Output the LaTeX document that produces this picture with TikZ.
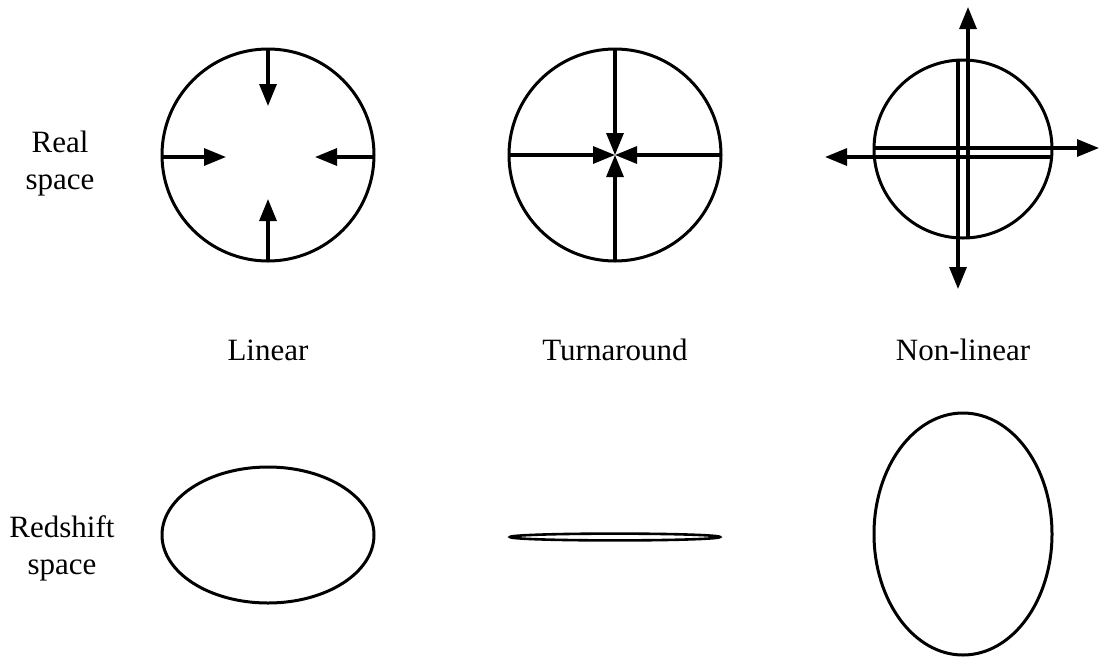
\documentclass[tikz,border=0pt]{standalone}
\usepackage{fontspec}
\setmainfont{Liberation Serif}
\usetikzlibrary{arrows.meta}
\begin{document}
\begin{tikzpicture}[x=1pt,y=-1pt,
  outline/.style={line width=3pt},
  vel/.style={line width=3.2pt,-{Triangle[length=22pt,width=17pt]}},
  lbl/.style={font=\fontsize{31}{37}\selectfont,align=center}]
\useasboundingbox (0,0) rectangle (1100,657);
% Row labels
\node[lbl] (real) at (60,164) {Real\\space};
\node[lbl] (red) at (62,548) {Redshift\\space};
% Linear circle
\coordinate (c1) at (268,155);
\draw[outline] (c1) circle[radius=106];
\coordinate (c1t) at (268,49); \coordinate (c1tt) at (268,106);
\coordinate (c1b) at (268,261); \coordinate (c1bt) at (268,199);
\coordinate (c1l) at (162,157); \coordinate (c1lt) at (226,157);
\coordinate (c1r) at (374,157); \coordinate (c1rt) at (315,157);
\draw[vel] (c1t) -- (c1tt);
\draw[vel] (c1b) -- (c1bt);
\draw[vel] (c1l) -- (c1lt);
\draw[vel] (c1r) -- (c1rt);
% Turnaround circle
\coordinate (c2) at (615,155);
\coordinate (c2t) at (615,49); \coordinate (c2b) at (615,261);
\coordinate (c2l) at (509,155); \coordinate (c2r) at (721,155);
\draw[outline] (c2) circle[radius=106];
\draw[vel] (c2t) -- (c2);
\draw[vel] (c2b) -- (c2);
\draw[vel] (c2l) -- (c2);
\draw[vel] (c2r) -- (c2);
% Non-linear circle
\coordinate (c3) at (963,149);
\draw[outline] (c3) circle[radius=89];
\coordinate (v1s) at (958,60); \coordinate (v1e) at (958,289);
\coordinate (v2s) at (968,238); \coordinate (v2e) at (968,7);
\coordinate (h1s) at (874,148); \coordinate (h1e) at (1099,148);
\coordinate (h2s) at (1053,157); \coordinate (h2e) at (825,157);
\draw[vel] (v1s) -- (v1e);
\draw[vel] (v2s) -- (v2e);
\draw[vel] (h1s) -- (h1e);
\draw[vel] (h2s) -- (h2e);
% Column labels
\node[lbl] (lin) at (268,350) {Linear};
\node[lbl] (turn) at (615,350) {Turnaround};
\node[lbl] (nonlin) at (963,350) {Non-linear};
% Redshift-space ellipses
\draw[outline] (268,535) ellipse[x radius=106, y radius=68];
\draw[line width=2.6pt] (615,537) ellipse[x radius=105, y radius=3.4];
\draw[outline] (963,534) ellipse[x radius=89, y radius=121];
\end{tikzpicture}
\end{document}
